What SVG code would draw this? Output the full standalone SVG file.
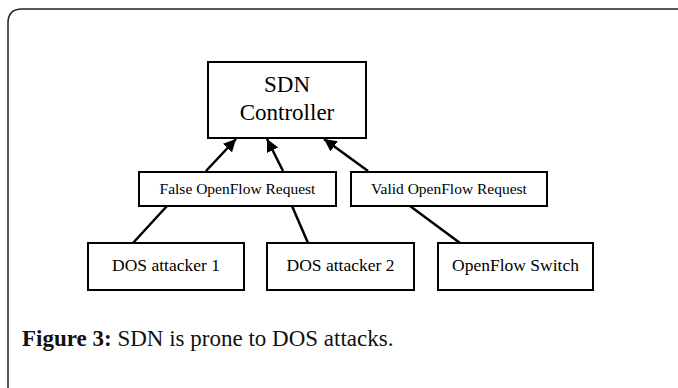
<svg xmlns="http://www.w3.org/2000/svg" width="678" height="388" viewBox="0 0 678 388">
<defs>
<style>
.box{fill:#fff;stroke:#000;stroke-width:2}
.t{font-family:"Liberation Serif",serif;fill:#000;text-anchor:middle}
.c{stroke:#000;stroke-width:2.5;fill:none}
</style>
<marker id="ah" viewBox="0 0 10 10" refX="10" refY="5" markerWidth="5" markerHeight="5" markerUnits="strokeWidth" orient="auto">
<path d="M0,0 L10,5 L0,10 z" fill="#000"/>
</marker>
</defs>
<rect width="678" height="388" fill="#fff"/>
<path d="M8,390 V23 Q8,9 22,9 H680" fill="none" stroke="#222" stroke-width="1.5"/>
<g id="connectors">
<line class="c" x1="206" y1="171" x2="236" y2="139" marker-end="url(#ah)"/>
<line class="c" x1="283" y1="171" x2="267" y2="139" marker-end="url(#ah)"/>
<line class="c" x1="368" y1="171" x2="324" y2="139" marker-end="url(#ah)"/>
<line class="c" x1="133" y1="243" x2="167" y2="206"/>
<line class="c" x1="308" y1="243" x2="292" y2="206"/>
<line class="c" x1="460" y1="243" x2="410" y2="206"/>
</g>
<g id="sdn">
<rect class="box" x="208" y="62" width="158" height="76"/>
<text class="t" x="287" y="92" font-size="23">SDN</text>
<text class="t" x="287" y="120" font-size="23">Controller</text>
</g>
<g id="false">
<rect class="box" x="139" y="172" width="197" height="34"/>
<text class="t" x="237.5" y="194" font-size="15.5">False OpenFlow Request</text>
</g>
<g id="valid">
<rect class="box" x="351" y="172" width="196" height="34"/>
<text class="t" x="449" y="194" font-size="15.5">Valid OpenFlow Request</text>
</g>
<g id="dos1">
<rect class="box" x="88" y="243" width="156" height="47"/>
<text class="t" x="166" y="271" font-size="17.5">DOS attacker 1</text>
</g>
<g id="dos2">
<rect class="box" x="267" y="243" width="147" height="47"/>
<text class="t" x="340.5" y="271" font-size="17.5">DOS attacker 2</text>
</g>
<g id="switch">
<rect class="box" x="438" y="243" width="155" height="47"/>
<text class="t" x="515.5" y="271" font-size="17.5">OpenFlow Switch</text>
</g>
<text x="22" y="346" font-family="Liberation Serif,serif" font-size="23" fill="#111"><tspan font-weight="bold">Figure 3:</tspan> SDN is prone to DOS attacks.</text>
</svg>
